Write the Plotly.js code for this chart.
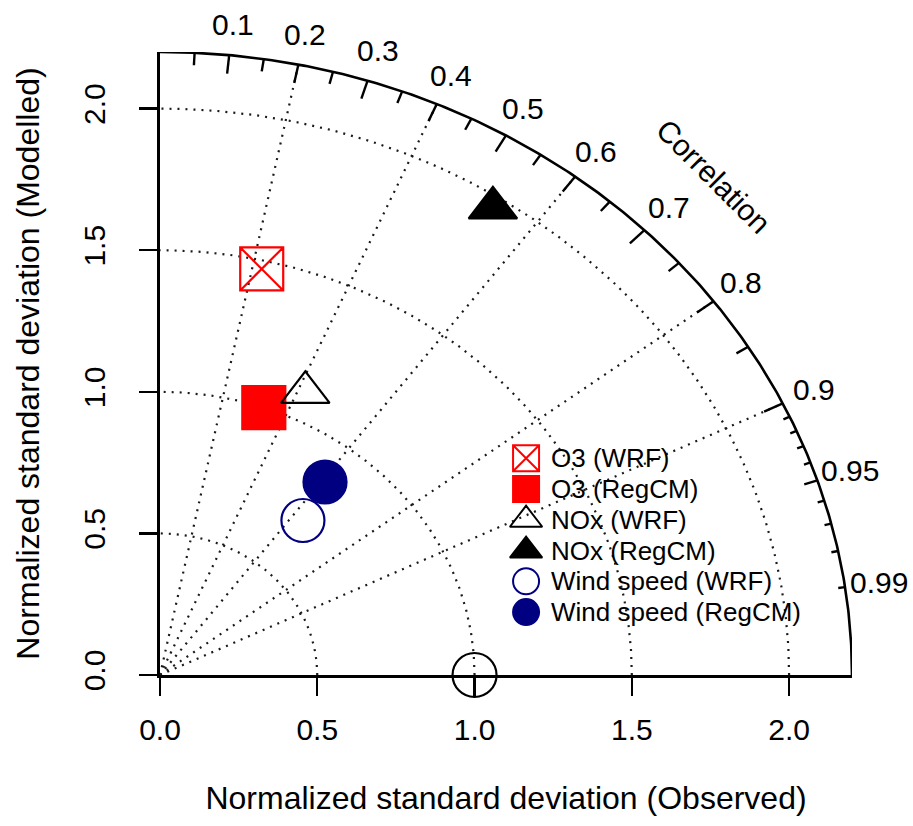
<!DOCTYPE html>
<html><head><meta charset="utf-8">
<script src="https://cdn.plot.ly/plotly-3.0.1.min.js"></script>
<style>html,body{margin:0;padding:0;background:#fff}#chart{width:913px;height:826px}</style>
</head><body><div id="chart"></div>
<script>
// ---- data ----
const seriesNames = ["O3 (WRF)", "O3 (RegCM)", "NOx (WRF)", "NOx (RegCM)", "Wind speed (WRF)", "Wind speed (RegCM)"];
const normSD      = [1.47, 1.00, 1.10, 1.96, 0.71, 0.86];   // normalized standard deviation (radius)
const correlation = [0.22, 0.33, 0.42, 0.54, 0.64, 0.61];   // correlation with observations
const seriesSymbols = ["square-x-open", "square", "triangle-up-open", "triangle-up", "circle-open", "circle"];
const seriesColors  = ["#ff0000", "#ff0000", "#000000", "#000000", "#000080", "#000080"];
const refSD = 1.0;
const maxSD = 2.2;
const sdTicks = [0, 0.5, 1.0, 1.5, 2.0];
const sdTickText = ["0.0", "0.5", "1.0", "1.5", "2.0"];
const sdArcs = [0.5, 1.0, 1.5, 2.0];
const corrGridLines = [0.2, 0.4, 0.6, 0.8, 0.9];
const corrLabels = [0.1, 0.2, 0.3, 0.4, 0.5, 0.6, 0.7, 0.8, 0.9, 0.95, 0.99];
const corrBigTicks = [0.1, 0.2, 0.3, 0.4, 0.5, 0.6, 0.7, 0.8, 0.9];
const corrMedTicks = [0.05, 0.15, 0.25, 0.35, 0.45, 0.55, 0.65, 0.75, 0.85, 0.95];
const corrSmallTicks = [0.91, 0.92, 0.93, 0.94, 0.96, 0.97, 0.98, 0.99];

const FONT = "Liberation Sans, Arial, Helvetica, sans-serif";
const traces = [];

function arc(r, n) {
  const xs = [], ys = [];
  for (let i = 0; i <= n; i++) {
    const t = (Math.PI / 2) * i / n;
    xs.push(r * Math.cos(t)); ys.push(r * Math.sin(t));
  }
  return [xs, ys];
}

// dotted sd arcs
{
  const xs = [], ys = [];
  sdArcs.forEach(r => { const [a, b] = arc(r, 200); xs.push(...a, null); ys.push(...b, null); });
  traces.push({x: xs, y: ys, mode: "lines", line: {color: "#1a1a1a", width: 2.2, dash: "2px,6px"},
    hoverinfo: "skip", showlegend: false});
}
// dotted correlation radial lines
{
  const xs = [], ys = [];
  corrGridLines.forEach(c => { const s = Math.sqrt(1 - c * c); xs.push(0, maxSD * c, null); ys.push(0, maxSD * s, null); });
  traces.push({x: xs, y: ys, mode: "lines", line: {color: "#1a1a1a", width: 2.2, dash: "2px,6px"},
    hoverinfo: "skip", showlegend: false});
}
// outer arc
{
  const [a, b] = arc(maxSD, 300);
  traces.push({x: a, y: b, mode: "lines", line: {color: "#000", width: 2.6}, hoverinfo: "skip", showlegend: false, cliponaxis: false});
}
// correlation ticks
{
  const xs = [], ys = [];
  const add = (vals, frac) => vals.forEach(c => {
    const s = Math.sqrt(1 - c * c);
    xs.push(maxSD * c, maxSD * frac * c, null); ys.push(maxSD * s, maxSD * frac * s, null);
  });
  add(corrBigTicks, 0.97); add(corrMedTicks, 0.98); add(corrSmallTicks, 0.99);
  traces.push({x: xs, y: ys, mode: "lines", line: {color: "#000", width: 2.4}, hoverinfo: "skip", showlegend: false, cliponaxis: false});
}
// reference point
traces.push({x: [refSD], y: [0], mode: "markers", cliponaxis: false, showlegend: false, hoverinfo: "skip",
  marker: {symbol: "circle-open", size: 44, color: "#000", line: {width: 2.2, color: "#000"}}});

// series
seriesNames.forEach((name, i) => {
  const r = normSD[i], c = correlation[i];
  traces.push({
    x: [r * c], y: [r * Math.sqrt(1 - c * c)], name: name, mode: "markers", cliponaxis: false, showlegend: false,
    marker: {symbol: seriesSymbols[i], size: seriesSymbols[i].indexOf("triangle") >= 0 ? 42 : 43,
      color: seriesColors[i], line: {width: 2.2, color: seriesColors[i]}}
  });
});

// legend (drawn in an overlaid unit axis so its swatches can match the reference size)
const legendX = 0.529, legendTextX = 0.562, legendTop = 0.348, legendStep = 0.0494;
const annotations = [];
seriesNames.forEach((name, i) => {
  const ly = legendTop - i * legendStep;
  traces.push({
    x: [legendX], y: [ly], xaxis: "x2", yaxis: "y2", mode: "markers", showlegend: false, hoverinfo: "skip", cliponaxis: false,
    marker: {symbol: seriesSymbols[i], size: seriesSymbols[i].indexOf("triangle") >= 0 ? 28 : 26,
      color: seriesColors[i], line: {width: 2, color: seriesColors[i]}}
  });
  annotations.push({x: legendTextX, y: ly, xref: "paper", yref: "paper", text: name, showarrow: false,
    xanchor: "left", yanchor: "middle", font: {family: FONT, size: 26, color: "#000"}});
});

// correlation labels (placed at 1.05 * maxSD along each correlation direction)
corrLabels.forEach(c => annotations.push({
  x: 1.05 * c, y: 1.05 * Math.sqrt(1 - c * c), xref: "paper", yref: "paper",
  text: String(c), showarrow: false, xanchor: "center", yanchor: "middle",
  font: {family: FONT, size: 30, color: "#000"}
}));
annotations.push({x: 0.8, y: 0.8, xref: "paper", yref: "paper", text: "Correlation", showarrow: false,
  textangle: 45, xanchor: "center", yanchor: "middle", font: {family: FONT, size: 30, color: "#000"}});

const axisBase = {
  range: [0, maxSD], tickvals: sdTicks, ticktext: sdTickText, ticks: "outside", ticklen: 18, tickwidth: 2.4,
  tickcolor: "#000", showline: true, linewidth: 2.6, linecolor: "#000", showgrid: false, zeroline: false,
  tickfont: {family: FONT, size: 30, color: "#000"}, fixedrange: true, automargin: false
};

const layout = {
  width: 913, height: 826,
  margin: {l: 160, r: 61, t: 52, b: 151, pad: 0},
  paper_bgcolor: "#fff", plot_bgcolor: "#fff",
  font: {family: FONT, color: "#000"},
  xaxis: Object.assign({}, axisBase, {ticklabelstandoff: 8,
    title: {text: "Normalized standard deviation (Observed)", font: {family: FONT, size: 32}, standoff: 42}}),
  yaxis: Object.assign({}, axisBase, {tickangle: -90, ticklabelstandoff: 22,
    title: {text: "Normalized standard deviation (Modelled)", font: {family: FONT, size: 32}, standoff: 30}}),
  xaxis2: {overlaying: "x", anchor: "y2", range: [0, 1], visible: false, fixedrange: true},
  yaxis2: {overlaying: "y", anchor: "x2", range: [0, 1], visible: false, fixedrange: true},
  showlegend: false,
  annotations: annotations
};

Plotly.newPlot("chart", traces, layout, {displayModeBar: false, staticPlot: true});
</script>
</body></html>
